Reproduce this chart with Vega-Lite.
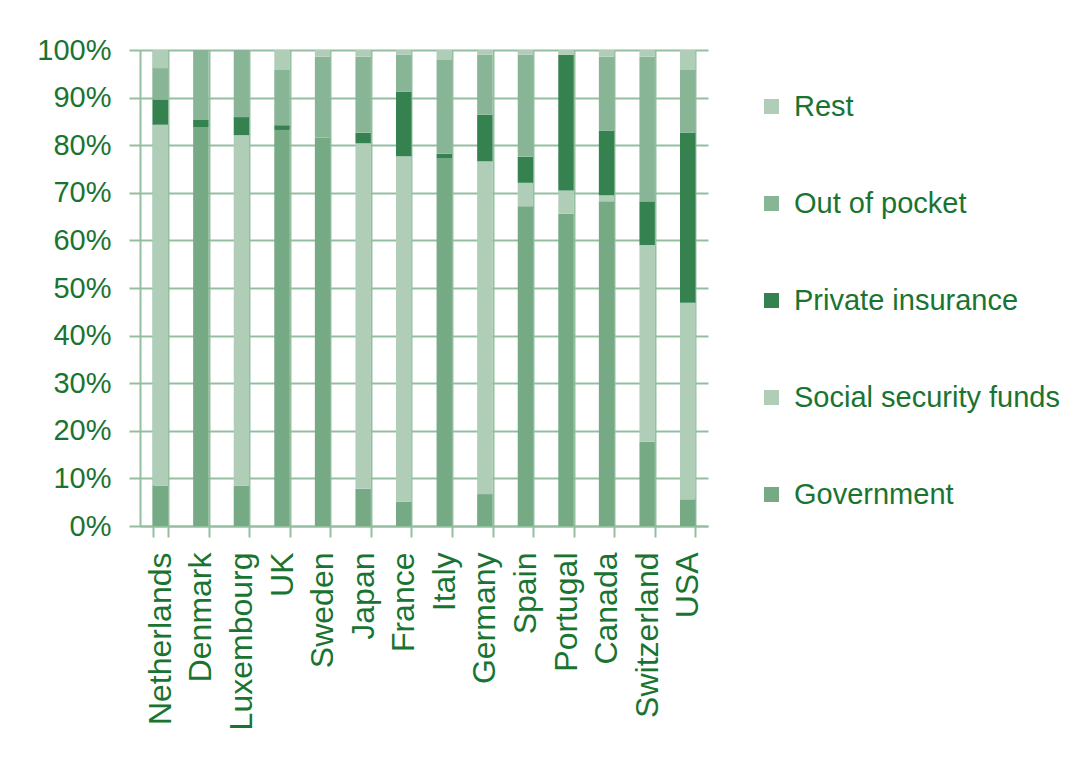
{
  "$schema": "https://vega.github.io/schema/vega-lite/v6.json",
  "width": 568,
  "height": 476,
  "autosize": {"type": "none"},
  "padding": {"left": 140, "top": 50, "right": 378, "bottom": 246},
  "background": "white",
  "config": {
    "view": {"stroke": null},
    "font": "Liberation Sans",
    "axis": {"labelColor": "#1a7431", "labelFont": "Liberation Sans", "domainColor": "#93bf9f", "domainWidth": 2, "tickColor": "#93bf9f", "tickWidth": 2, "gridColor": "#93bf9f", "gridWidth": 2, "gridOpacity": 1}
  },
  "data": {
    "values": [
      {"country": "Netherlands", "source": "Government", "value": 8.5},
      {"country": "Netherlands", "source": "Social security funds", "value": 75.8},
      {"country": "Netherlands", "source": "Private insurance", "value": 5.3},
      {"country": "Netherlands", "source": "Out of pocket", "value": 6.6},
      {"country": "Netherlands", "source": "Rest", "value": 3.8},
      {"country": "Denmark", "source": "Government", "value": 83.8},
      {"country": "Denmark", "source": "Social security funds", "value": 0},
      {"country": "Denmark", "source": "Private insurance", "value": 1.5},
      {"country": "Denmark", "source": "Out of pocket", "value": 14.7},
      {"country": "Denmark", "source": "Rest", "value": 0},
      {"country": "Luxembourg", "source": "Government", "value": 8.5},
      {"country": "Luxembourg", "source": "Social security funds", "value": 73.6},
      {"country": "Luxembourg", "source": "Private insurance", "value": 3.8},
      {"country": "Luxembourg", "source": "Out of pocket", "value": 14.1},
      {"country": "Luxembourg", "source": "Rest", "value": 0},
      {"country": "UK", "source": "Government", "value": 83.2},
      {"country": "UK", "source": "Social security funds", "value": 0},
      {"country": "UK", "source": "Private insurance", "value": 1.0},
      {"country": "UK", "source": "Out of pocket", "value": 11.6},
      {"country": "UK", "source": "Rest", "value": 4.2},
      {"country": "Sweden", "source": "Government", "value": 81.6},
      {"country": "Sweden", "source": "Social security funds", "value": 0},
      {"country": "Sweden", "source": "Private insurance", "value": 0},
      {"country": "Sweden", "source": "Out of pocket", "value": 17.0},
      {"country": "Sweden", "source": "Rest", "value": 1.4},
      {"country": "Japan", "source": "Government", "value": 7.8},
      {"country": "Japan", "source": "Social security funds", "value": 72.6},
      {"country": "Japan", "source": "Private insurance", "value": 2.2},
      {"country": "Japan", "source": "Out of pocket", "value": 16.0},
      {"country": "Japan", "source": "Rest", "value": 1.4},
      {"country": "France", "source": "Government", "value": 5.1},
      {"country": "France", "source": "Social security funds", "value": 72.6},
      {"country": "France", "source": "Private insurance", "value": 13.5},
      {"country": "France", "source": "Out of pocket", "value": 7.8},
      {"country": "France", "source": "Rest", "value": 1.0},
      {"country": "Italy", "source": "Government", "value": 77.2},
      {"country": "Italy", "source": "Social security funds", "value": 0},
      {"country": "Italy", "source": "Private insurance", "value": 1.0},
      {"country": "Italy", "source": "Out of pocket", "value": 19.7},
      {"country": "Italy", "source": "Rest", "value": 2.1},
      {"country": "Germany", "source": "Government", "value": 6.7},
      {"country": "Germany", "source": "Social security funds", "value": 69.9},
      {"country": "Germany", "source": "Private insurance", "value": 9.8},
      {"country": "Germany", "source": "Out of pocket", "value": 12.6},
      {"country": "Germany", "source": "Rest", "value": 1.0},
      {"country": "Spain", "source": "Government", "value": 67.2},
      {"country": "Spain", "source": "Social security funds", "value": 4.9},
      {"country": "Spain", "source": "Private insurance", "value": 5.5},
      {"country": "Spain", "source": "Out of pocket", "value": 21.4},
      {"country": "Spain", "source": "Rest", "value": 1.0},
      {"country": "Portugal", "source": "Government", "value": 65.6},
      {"country": "Portugal", "source": "Social security funds", "value": 4.9},
      {"country": "Portugal", "source": "Private insurance", "value": 28.5},
      {"country": "Portugal", "source": "Out of pocket", "value": 0},
      {"country": "Portugal", "source": "Rest", "value": 1.0},
      {"country": "Canada", "source": "Government", "value": 68.2},
      {"country": "Canada", "source": "Social security funds", "value": 1.3},
      {"country": "Canada", "source": "Private insurance", "value": 13.6},
      {"country": "Canada", "source": "Out of pocket", "value": 15.5},
      {"country": "Canada", "source": "Rest", "value": 1.4},
      {"country": "Switzerland", "source": "Government", "value": 17.7},
      {"country": "Switzerland", "source": "Social security funds", "value": 41.3},
      {"country": "Switzerland", "source": "Private insurance", "value": 9.2},
      {"country": "Switzerland", "source": "Out of pocket", "value": 30.4},
      {"country": "Switzerland", "source": "Rest", "value": 1.4},
      {"country": "USA", "source": "Government", "value": 5.6},
      {"country": "USA", "source": "Social security funds", "value": 41.3},
      {"country": "USA", "source": "Private insurance", "value": 35.7},
      {"country": "USA", "source": "Out of pocket", "value": 13.2},
      {"country": "USA", "source": "Rest", "value": 4.2}
    ]
  },
  "transform": [
    {"calculate": "indexof(['Government', 'Social security funds', 'Private insurance', 'Out of pocket', 'Rest'], datum.source)", "as": "stackRank"}
  ],
  "mark": {"type": "bar"},
  "encoding": {
    "x": {
      "field": "country",
      "type": "nominal",
      "sort": null,
      "scale": {"paddingInner": 0.62, "paddingOuter": 0.31},
      "axis": {"title": null, "labelAngle": -90, "labelAlign": "right", "labelBaseline": "middle", "labelFontSize": 32, "tickBand": "extent", "tickSize": 11, "labelPadding": 15, "grid": true, "labelLimit": 300}
    },
    "y": {
      "field": "value",
      "type": "quantitative",
      "stack": "zero",
      "scale": {"domain": [0, 100], "nice": false},
      "axis": {"title": null, "values": [0, 10, 20, 30, 40, 50, 60, 70, 80, 90, 100], "labelExpr": "datum.value + '%'", "labelFontSize": 29, "tickSize": 11, "labelPadding": 18, "grid": true}
    },
    "color": {
      "field": "source",
      "type": "nominal",
      "sort": ["Government", "Social security funds", "Private insurance", "Out of pocket", "Rest"],
      "scale": {"domain": ["Government", "Social security funds", "Private insurance", "Out of pocket", "Rest"], "range": ["#76aa85", "#b0cdb8", "#358150", "#88b595", "#b0cdb8"]},
      "legend": {"title": null, "values": ["Rest", "Out of pocket", "Private insurance", "Social security funds", "Government"], "orient": "none", "legendX": 617, "legendY": 42, "padding": 0, "symbolType": "square", "symbolSize": 225, "symbolStrokeWidth": 0, "labelFontSize": 29, "labelColor": "#1a7431", "labelFont": "Liberation Sans", "labelOffset": 8, "rowPadding": 67, "labelLimit": 400}
    },
    "order": {"field": "stackRank", "type": "quantitative", "sort": "ascending"}
  }
}
